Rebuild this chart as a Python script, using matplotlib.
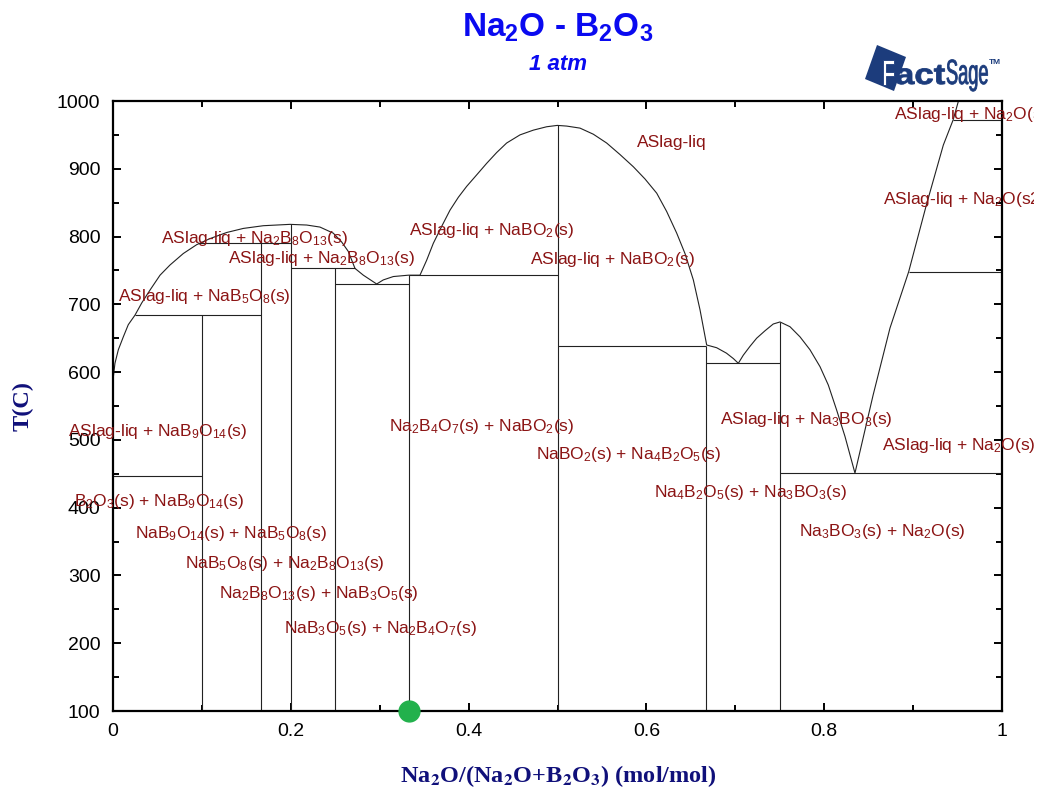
"""Na2O - B2O3 phase diagram at 1 atm, drawn in the FactSage style.
Writes out.png.
"""
import matplotlib
matplotlib.use('Agg')
import matplotlib.pyplot as plt
import matplotlib.transforms as mtransforms
from matplotlib.patches import Polygon, PathPatch, Rectangle
from matplotlib.textpath import TextPath
from matplotlib.font_manager import FontProperties
from matplotlib.ticker import MultipleLocator, FuncFormatter

plt.rcParams['font.family'] = ['Liberation Sans', 'DejaVu Sans']
plt.rcParams['mathtext.fontset'] = 'custom'
plt.rcParams['mathtext.rm'] = 'Liberation Sans'
plt.rcParams['mathtext.it'] = 'Liberation Sans:italic'
plt.rcParams['mathtext.bf'] = 'Liberation Sans:bold'

# liquidus, x = Na2O/(Na2O+B2O3), T in C
liq_x = [0.0, 0.0004, 0.0022, 0.006, 0.0116, 0.0172, 0.0247, 0.0323, 0.0416,
         0.0529, 0.0641, 0.0791, 0.0941, 0.1091, 0.1279, 0.1466, 0.1691,
         0.1991, 0.2179, 0.2328, 0.2478, 0.2572, 0.2647, 0.2722, 0.2816,
         0.2966, 0.304, 0.3153, 0.3322, 0.3453, 0.3528, 0.3603, 0.3697,
         0.3791, 0.3885, 0.3978, 0.4091, 0.4203, 0.4316, 0.4428, 0.4578,
         0.4728, 0.4878, 0.4998, 0.5103, 0.5253, 0.5403, 0.5553, 0.5703,
         0.5853, 0.5984, 0.6116, 0.6228, 0.6341, 0.6434, 0.6528, 0.6603,
         0.6678, 0.679, 0.690, 0.6978, 0.7034, 0.709, 0.7165, 0.724, 0.7334,
         0.7427, 0.7503, 0.7615, 0.7728, 0.784, 0.7953, 0.8046, 0.814,
         0.8234, 0.8346, 0.855, 0.874, 0.895, 0.915, 0.934, 0.945, 0.951]
liq_t = [585, 593, 613, 633, 652, 670, 684, 702, 721,
         743, 758, 775, 788, 797, 806, 812, 816,
         818, 817, 814, 805, 792, 778, 753, 743,
         730, 736, 741, 743, 743, 765, 790, 815,
         839, 858, 874, 891, 908, 924, 938, 950,
         957, 962, 964, 963, 960, 951, 938, 921,
         903, 885, 864, 837, 805, 775, 736, 692,
         640, 636, 628, 620, 613, 625, 638, 650, 661,
         671, 674, 667, 652, 633, 608, 581, 544,
         505, 451, 566, 665, 748, 847, 935, 972, 1000]

# invariant (horizontal) lines: start x, end x, temperature
inv_x0 = [0.0, 0.0247, 0.0955, 0.2, 0.25, 0.3333, 0.5, 0.6667, 0.75, 0.895, 0.945]
inv_x1 = [0.1, 0.1667, 0.2, 0.2722, 0.3333, 0.5, 0.6667, 0.75, 1.0, 1.0, 1.0]
inv_t = [446, 684, 790, 753, 730, 743, 639, 613, 451, 748, 972]

# compounds: composition and the temperature where their line stops
comp_x = [0.1, 1 / 6, 0.2, 0.25, 1 / 3, 0.5, 2 / 3, 0.75]
comp_t = [684, 790, 818, 753, 743, 964, 639, 674]

# calculated point
point_x = [1 / 3]
point_t = [100]

# phase field labels
labels = [
    'ASlag-liq',
    'ASlag-liq + Na$_2$O(s3)',
    'ASlag-liq + Na$_2$O(s2)',
    'ASlag-liq + Na$_2$B$_8$O$_{13}$(s)',
    'ASlag-liq + Na$_2$B$_8$O$_{13}$(s)',
    'ASlag-liq + NaB$_5$O$_8$(s)',
    'ASlag-liq + NaBO$_2$(s)',
    'ASlag-liq + NaBO$_2$(s)',
    'ASlag-liq + NaB$_9$O$_{14}$(s)',
    'B$_2$O$_3$(s) + NaB$_9$O$_{14}$(s)',
    'NaB$_9$O$_{14}$(s) + NaB$_5$O$_8$(s)',
    'NaB$_5$O$_8$(s) + Na$_2$B$_8$O$_{13}$(s)',
    'Na$_2$B$_8$O$_{13}$(s) + NaB$_3$O$_5$(s)',
    'NaB$_3$O$_5$(s) + Na$_2$B$_4$O$_7$(s)',
    'Na$_2$B$_4$O$_7$(s) + NaBO$_2$(s)',
    'NaBO$_2$(s) + Na$_4$B$_2$O$_5$(s)',
    'Na$_4$B$_2$O$_5$(s) + Na$_3$BO$_3$(s)',
    'Na$_3$BO$_3$(s) + Na$_2$O(s)',
    'ASlag-liq + Na$_3$BO$_3$(s)',
    'ASlag-liq + Na$_2$O(s)',
]
label_x = [0.589, 0.8785, 0.866, 0.0536, 0.1297, 0.006, 0.3333, 0.469, -0.0503,
           -0.0439, 0.0247, 0.081, 0.1196, 0.1924, 0.3105, 0.4758, 0.6085,
           0.7717, 0.6828, 0.8647]
label_t = [941, 982, 857, 800, 770, 714, 812, 768, 515,
           411, 364, 320, 276, 225, 523, 481, 425,
           367, 532, 495]

W, H = 1040, 791
LINE = '#222222'
LABEL = '#8b1414'
NAVY = '#10107a'
LOGO = '#1c3c7c'


def main():
    fig = plt.figure(figsize=(W / 100, H / 100), dpi=100)
    # pixel coordinates, origin top-left
    px = mtransforms.Affine2D().scale(1 / W, -1 / H).translate(0, 1) + fig.transFigure

    ax = fig.add_axes([113 / W, 1 - 711 / H, 889 / W, 610 / H])
    ax.set_xlim(0, 1)
    ax.set_ylim(100, 1000)

    ax.plot(liq_x, liq_t, color=LINE, lw=0.8)
    ax.hlines(inv_t, inv_x0, inv_x1, color=LINE, lw=0.8)
    ax.vlines(comp_x, 100, comp_t, color=LINE, lw=0.8)
    ax.plot(point_x, point_t, 'o', ms=15, color='#22b14c', mec='#22b14c',
            clip_on=False, zorder=6)

    # keep text inside the page edge
    edge = Rectangle((0, 0), 1034 / W, 1, transform=fig.transFigure,
                     facecolor='none', edgecolor='none')
    fig.add_artist(edge)
    edge.set_visible(False)
    shift = mtransforms.offset_copy(ax.transData, fig=fig, x=0, y=-4.5,
                                    units='points')
    for txt, x, t in zip(labels, label_x, label_t):
        tt = ax.text(x, t, txt, color=LABEL, fontsize=12.5, ha='left',
                     va='baseline', transform=shift, zorder=5)
        tt.set_clip_path(edge)
        tt.set_clip_on(True)

    # axes styling
    for sp in ax.spines.values():
        sp.set_linewidth(1.6)
    ax.xaxis.set_major_locator(MultipleLocator(0.2))
    ax.xaxis.set_minor_locator(MultipleLocator(0.1))
    ax.yaxis.set_major_locator(MultipleLocator(100))
    ax.yaxis.set_minor_locator(MultipleLocator(50))
    ax.xaxis.set_major_formatter(FuncFormatter(lambda v, p: f'{v:g}'))
    ax.tick_params(which='both', direction='in', top=True, right=True,
                   width=1.4, labelsize=14, pad=9)
    ax.tick_params(which='major', length=6)
    ax.tick_params(which='minor', length=4)

    # titles and axis labels
    fig.text(558, 37, r'Na$_\mathbf{2}$O - B$_\mathbf{2}$O$_\mathbf{3}$', transform=px,
             ha='center', va='baseline', fontsize=24, fontweight='bold',
             color='#0a0af0')
    fig.text(558, 70, '1 atm', transform=px, ha='center', va='baseline',
             fontsize=16, fontweight='bold', fontstyle='italic', color='#0a0af0')
    fig.text(558, 776, r'Na$_\mathbf{2}$O/(Na$_\mathbf{2}$O+B$_\mathbf{2}$O$_\mathbf{3}$) (mol/mol)',
             transform=px, ha='center', va='center', fontsize=17.5,
             fontweight='bold', family='Liberation Serif', color=NAVY,
             math_fontfamily='stix')
    fig.text(23, 406, 'T(C)', transform=px, ha='center', va='center',
             rotation=90, fontsize=17.5, fontweight='bold',
             family='Liberation Serif', color=NAVY)

    # FactSage logo
    fig.add_artist(Polygon([(877, 45), (906, 57), (894, 91), (865, 79)],
                           closed=True, transform=px, facecolor=LOGO,
                           edgecolor='none'))
    bold = FontProperties(family='Liberation Sans', weight='bold')
    plain = FontProperties(family='Liberation Sans')
    parts = [('F', bold, 37, 0.62, 881, 85, 'white'),
             ('act', bold, 29, 1.2, 895, 84, LOGO),
             ('Sage', plain, 35, 0.52, 946, 84, LOGO)]
    for s, fp, size, sx, x0, y0, fc in parts:
        path = TextPath((0, 0), s, size=size, prop=fp)
        tr = mtransforms.Affine2D().scale(sx, -1).translate(x0, y0) + px
        fig.add_artist(PathPatch(path, transform=tr, facecolor=fc,
                                 edgecolor=LOGO, lw=0.6))
    fig.text(989, 64, 'TM', transform=px, fontsize=6, color=LOGO,
             fontweight='bold', ha='left', va='baseline')

    fig.savefig('out.png', dpi=100)


if __name__ == '__main__':
    main()
